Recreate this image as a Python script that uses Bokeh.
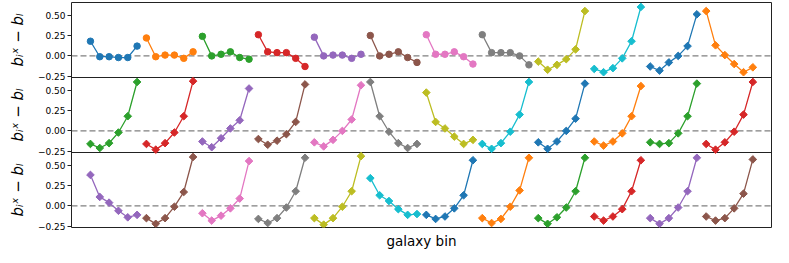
import numpy as np
from bokeh.plotting import figure
from bokeh.layouts import row
from bokeh.models import Range1d, FixedTicker, Span
from bokeh.core.properties import value
from bokeh.embed import file_html
from bokeh.resources import INLINE

# ---------------- data ----------------
POINTS_PER_GROUP = 6

row1_values = [
    [0.18, -0.01, -0.01, -0.02, -0.02, 0.12],
    [0.22, -0.01, 0.01, 0.01, -0.03, 0.05],
    [0.24, 0.00, 0.02, 0.05, -0.02, -0.04],
    [0.26, 0.05, 0.04, 0.04, -0.03, -0.13],
    [0.23, 0.00, 0.01, 0.01, -0.03, 0.02],
    [0.25, 0.00, 0.02, 0.05, -0.02, -0.08],
    [0.26, 0.02, 0.02, 0.05, -0.01, -0.10],
    [0.26, 0.04, 0.04, 0.04, 0.00, -0.11],
    [-0.07, -0.17, -0.11, -0.04, 0.08, 0.55],
    [-0.16, -0.20, -0.15, -0.03, 0.18, 0.60],
    [-0.13, -0.18, -0.08, 0.00, 0.12, 0.51],
    [0.55, 0.13, 0.01, -0.10, -0.20, -0.14],
]

row2_values = [
    [-0.16, -0.21, -0.15, -0.02, 0.18, 0.60],
    [-0.16, -0.23, -0.15, -0.02, 0.18, 0.61],
    [-0.13, -0.20, -0.09, 0.03, 0.13, 0.52],
    [-0.10, -0.17, -0.12, -0.04, 0.11, 0.57],
    [-0.14, -0.19, -0.11, 0.00, 0.14, 0.56],
    [0.60, 0.18, -0.01, -0.15, -0.21, -0.16],
    [0.47, 0.11, 0.03, -0.07, -0.16, -0.11],
    [-0.16, -0.22, -0.15, -0.01, 0.20, 0.60],
    [-0.14, -0.22, -0.13, 0.00, 0.15, 0.58],
    [-0.13, -0.18, -0.13, -0.03, 0.18, 0.55],
    [-0.14, -0.16, -0.15, -0.03, 0.18, 0.58],
    [-0.16, -0.23, -0.14, -0.01, 0.20, 0.60],
]

row3_values = [
    [0.38, 0.11, 0.04, -0.06, -0.14, -0.11],
    [-0.15, -0.22, -0.15, -0.01, 0.17, 0.60],
    [-0.09, -0.18, -0.12, -0.03, 0.09, 0.55],
    [-0.16, -0.21, -0.15, -0.02, 0.18, 0.59],
    [-0.15, -0.23, -0.15, -0.01, 0.18, 0.61],
    [0.34, 0.13, 0.06, -0.04, -0.11, -0.10],
    [-0.11, -0.16, -0.13, -0.03, 0.13, 0.56],
    [-0.15, -0.21, -0.16, -0.01, 0.19, 0.59],
    [-0.15, -0.22, -0.14, -0.02, 0.18, 0.59],
    [-0.13, -0.18, -0.13, -0.04, 0.18, 0.56],
    [-0.15, -0.22, -0.15, -0.02, 0.18, 0.59],
    [-0.13, -0.18, -0.15, -0.03, 0.15, 0.57],
]

y_tick_values = [-0.25, 0.0, 0.25, 0.50]
y_tick_labels = ["\u22120.25", "0.00", "0.25", "0.50"]
y_label = "b\u1d62\u02e3 \u2212 b\u2097"
x_label = "galaxy bin"

TAB10 = ["#1f77b4", "#ff7f0e", "#2ca02c", "#d62728", "#9467bd",
         "#8c564b", "#e377c2", "#7f7f7f", "#bcbd22", "#17becf"]

rows = [row1_values, row2_values, row3_values]

# ---------------- layout ----------------
ROW_LO, ROW_HI = -0.265, 0.655          # per-panel y limits
SPAN = ROW_HI - ROW_LO
n_rows = len(rows)
offsets = [round((n_rows - 1 - k) * SPAN, 6) for k in range(n_rows)]

x_range = Range1d(-2.03, 73.0)
y_range = Range1d(ROW_LO, ROW_HI + offsets[0])

FRAME_H = 75
TOP, BOTTOM = 2, 24
H = FRAME_H * n_rows + TOP + BOTTOM
LABEL_W = 34

# ---- narrow figure holding the per-panel y labels ----
lab = figure(width=LABEL_W, height=H, x_range=Range1d(0, 1), y_range=y_range,
             output_backend="svg", toolbar_location=None,
             min_border_left=0, min_border_right=0,
             min_border_top=TOP, min_border_bottom=BOTTOM)
lab.axis.visible = False
lab.grid.visible = False
lab.outline_line_color = None
lab.background_fill_color = "white"
lab.border_fill_color = "white"
lab.text(x=[0.5] * n_rows, y=[off + (ROW_LO + ROW_HI) / 2 for off in offsets],
         text=[y_label] * n_rows, angle=np.pi / 2,
         text_align="center", text_baseline="middle",
         text_font=value("DejaVu Sans"), text_font_size="15px",
         text_font_style="italic", text_color="black")

# ---- main figure ----
p = figure(width=773 - LABEL_W, height=H,
           x_range=x_range, y_range=y_range,
           output_backend="svg", toolbar_location=None,
           min_border_left=71 - LABEL_W, min_border_right=2,
           min_border_top=TOP, min_border_bottom=BOTTOM)
p.grid.visible = False
p.background_fill_color = "white"
p.border_fill_color = "white"
p.outline_line_color = "#222222"
p.outline_line_width = 1

# y axis: ticks for every panel
tick_pos, overrides = [], {}
for off in offsets:
    for v, l in zip(y_tick_values, y_tick_labels):
        t = round(v + off, 6)
        tick_pos.append(t)
        overrides[t] = l
yax = p.yaxis[0]
yax.ticker = FixedTicker(ticks=tick_pos)
yax.major_label_overrides = overrides
yax.major_tick_out = 4
yax.major_tick_in = 0
yax.minor_tick_line_color = None
yax.major_tick_line_color = "#222222"
yax.axis_line_color = None
yax.major_label_standoff = 2
yax.major_label_text_font = "DejaVu Sans"
yax.major_label_text_font_size = "9px"
yax.major_label_text_color = "black"

# x axis: label only
xax = p.xaxis[0]
xax.ticker = FixedTicker(ticks=[])
xax.major_tick_out = 0
xax.major_tick_in = 0
xax.minor_tick_line_color = None
xax.axis_line_color = None
xax.major_label_standoff = 0
xax.axis_label = x_label
xax.axis_label_text_font = "DejaVu Sans"
xax.axis_label_text_font_size = "13.5px"
xax.axis_label_text_font_style = "normal"
xax.axis_label_text_color = "black"
xax.axis_label_standoff = 5

for k, (values, off) in enumerate(zip(rows, offsets)):
    # zero reference line
    p.add_layout(Span(location=off, dimension="width", line_color="gray",
                      line_dash="6 3", line_width=1.3, level="underlay"))
    # panel separator
    if k > 0:
        p.add_layout(Span(location=ROW_HI + off, dimension="width",
                          line_color="#222222", line_width=1, level="underlay"))
    for g, vals in enumerate(values):
        gi = k * len(values) + g
        color = TAB10[gi % len(TAB10)]
        xs = [g * POINTS_PER_GROUP + i for i in range(len(vals))]
        ys = [v + off for v in vals]
        p.line(xs, ys, line_color=color, line_width=1.3)
        if k == 0 and g < 8:
            p.scatter(xs, ys, marker="circle", size=6.5,
                      fill_color=color, line_color=color)
        else:
            p.scatter(xs, ys, marker="square", angle=np.pi / 4, size=5.4,
                      fill_color=color, line_color=color)

layout = row(lab, p, spacing=0)
open("out.html", "w").write(file_html(layout, INLINE))
